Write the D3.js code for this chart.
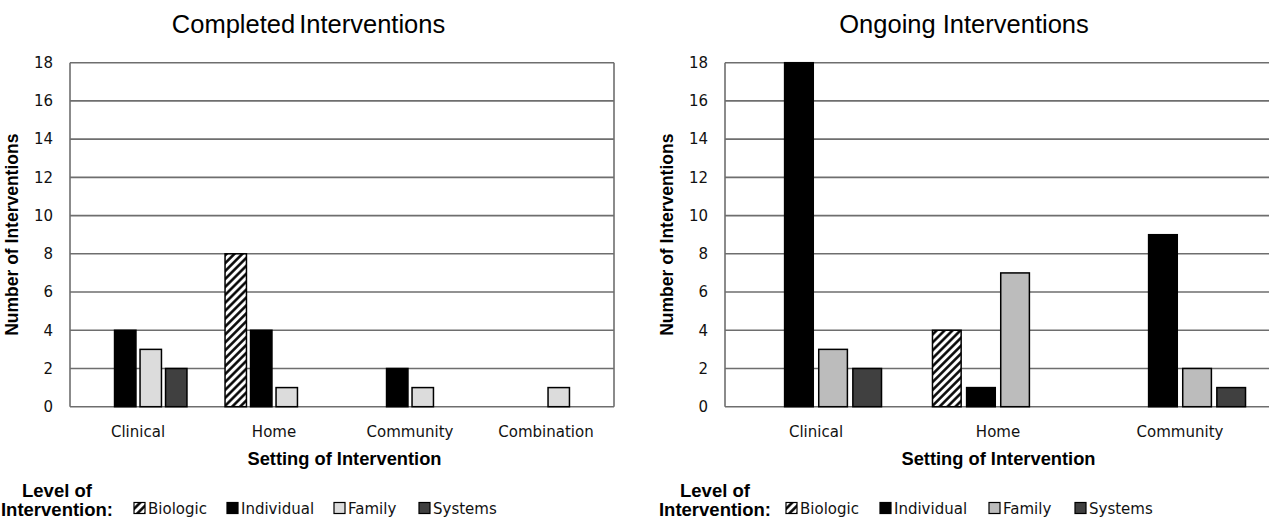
<!DOCTYPE html>
<html>
<head>
<meta charset="utf-8">
<script src="https://cdn.jsdelivr.net/npm/d3@7"></script>
<style>
  body { margin: 0; background: #fff; }
  svg { display: block; }
  .tick text { font-family: "DejaVu Sans", sans-serif; fill: #111; }
</style>
</head>
<body>
<svg id="svg" width="1269" height="519"></svg>
<script>
// data
const levels = ['Biologic', 'Individual', 'Family', 'Systems'];

const completedSettings = ['Clinical', 'Home', 'Community', 'Combination'];
const completedBiologic   = [0, 8, 0, 0];
const completedIndividual = [4, 4, 2, 0];
const completedFamily     = [3, 1, 1, 1];
const completedSystems    = [2, 0, 0, 0];

const ongoingSettings = ['Clinical', 'Home', 'Community'];
const ongoingBiologic   = [0, 4, 0];
const ongoingIndividual = [18, 1, 9];
const ongoingFamily     = [3, 7, 2];
const ongoingSystems    = [2, 0, 1];

const yTicks = [0, 2, 4, 6, 8, 10, 12, 14, 16, 18];

const svg = d3.select('#svg');

// hatch for Biologic
const defs = svg.append('defs');
const pat = defs.append('pattern')
  .attr('id', 'hatch')
  .attr('patternUnits', 'userSpaceOnUse')
  .attr('width', 5.6).attr('height', 5.6)
  .attr('patternTransform', 'rotate(45)');
pat.append('rect').attr('width', 5.6).attr('height', 5.6).attr('fill', '#fff');
pat.append('line').attr('x1', 1.4).attr('y1', 0).attr('x2', 1.4).attr('y2', 5.6)
  .attr('stroke', '#000').attr('stroke-width', 2.5);

const yTop = 62.7, yBottom = 406.7;
const gridColor = '#6e6e6e';

function drawChart(opts) {
  const { settings, series, x0, x1, fills, title, titleX, wordSpacing, drawRight } = opts;

  const yScale = d3.scaleLinear().domain([0, 18]).range([yBottom, yTop]);
  const xScale = d3.scaleBand().domain(settings).range([x0, x1])
    .paddingInner(0.28).paddingOuter(0.14);
  const xInner = d3.scaleBand().domain(levels).range([0, xScale.bandwidth()]).paddingInner(0.16);

  const g = svg.append('g');

  // gridlines
  g.append('g').selectAll('line')
    .data(yTicks)
    .enter().append('line')
    .attr('x1', x0).attr('x2', x1)
    .attr('y1', d => yScale(d)).attr('y2', d => yScale(d))
    .attr('stroke', gridColor).attr('stroke-width', 1.6);

  // plot frame
  g.append('line').attr('x1', x0).attr('x2', x0).attr('y1', yTop).attr('y2', yBottom)
    .attr('stroke', gridColor).attr('stroke-width', 1.6);
  if (drawRight) {
    g.append('line').attr('x1', x1).attr('x2', x1).attr('y1', yTop).attr('y2', yBottom)
      .attr('stroke', gridColor).attr('stroke-width', 1.6);
  }

  // y axis labels
  const yAxis = g.append('g')
    .attr('transform', `translate(${x0}, 0)`)
    .call(d3.axisLeft(yScale).tickValues(yTicks).tickSize(0).tickPadding(17));
  yAxis.select('.domain').remove();
  yAxis.selectAll('text').attr('font-size', 15);

  // x axis labels
  const xAxis = g.append('g')
    .attr('transform', `translate(0, ${yBottom})`)
    .call(d3.axisBottom(xScale).tickSize(0).tickPadding(20));
  xAxis.select('.domain').remove();
  xAxis.selectAll('text').attr('font-size', 15);

  // bars
  const groups = g.selectAll('.setting')
    .data(settings)
    .enter().append('g')
    .attr('class', 'setting')
    .attr('transform', d => `translate(${xScale(d)}, 0)`);

  groups.selectAll('rect')
    .data((d, i) => levels.map((lv, j) => ({ level: lv, value: series[j][i] })).filter(b => b.value > 0))
    .enter().append('rect')
    .attr('x', d => xInner(d.level))
    .attr('y', d => yScale(d.value))
    .attr('width', xInner.bandwidth())
    .attr('height', d => yBottom - yScale(d.value))
    .attr('fill', d => fills[levels.indexOf(d.level)])
    .attr('stroke', '#000')
    .attr('stroke-width', 1.5);

  // titles
  svg.append('text')
    .attr('x', titleX).attr('y', 33)
    .attr('text-anchor', 'middle')
    .attr('font-family', 'Liberation Sans, Arial, sans-serif')
    .attr('font-size', 25.5)
    .style('word-spacing', wordSpacing + 'px')
    .text(title);

  svg.append('text')
    .attr('transform', `translate(${x0 - 52}, ${(yTop + yBottom) / 2}) rotate(-90)`)
    .attr('text-anchor', 'middle')
    .attr('font-family', 'Liberation Sans, Arial, sans-serif')
    .attr('font-weight', 'bold')
    .attr('font-size', 17.5)
    .text('Number of Interventions');

  svg.append('text')
    .attr('x', opts.axisTitleX).attr('y', 465)
    .attr('text-anchor', 'middle')
    .attr('font-family', 'Liberation Sans, Arial, sans-serif')
    .attr('font-weight', 'bold')
    .attr('font-size', 18.3)
    .text('Setting of Intervention');

  // legend
  const lg = svg.append('g');
  lg.append('text')
    .attr('x', opts.legendLabelX).attr('y', 497)
    .attr('text-anchor', 'middle')
    .attr('font-family', 'Liberation Sans, Arial, sans-serif')
    .attr('font-weight', 'bold').attr('font-size', 18.5)
    .text('Level of');
  lg.append('text')
    .attr('x', opts.legendLabelX).attr('y', 515.5)
    .attr('text-anchor', 'middle')
    .attr('font-family', 'Liberation Sans, Arial, sans-serif')
    .attr('font-weight', 'bold').attr('font-size', 18.5)
    .text('Intervention:');

  const items = lg.selectAll('.item')
    .data(levels)
    .enter().append('g')
    .attr('class', 'item')
    .attr('transform', (d, i) => `translate(${opts.legendX[i]}, 0)`);
  items.append('rect')
    .attr('x', 0).attr('y', 502.5)
    .attr('width', 11).attr('height', 11)
    .attr('fill', (d, i) => fills[i])
    .attr('stroke', '#000').attr('stroke-width', 1.2);
  items.append('text')
    .attr('x', 14).attr('y', 514)
    .attr('font-family', 'DejaVu Sans, sans-serif')
    .attr('font-size', 15)
    .attr('fill', '#111')
    .text(d => d);
}

drawChart({
  settings: completedSettings,
  series: [completedBiologic, completedIndividual, completedFamily, completedSystems],
  x0: 70, x1: 614,
  fills: ['url(#hatch)', '#000', '#dcdcdc', '#404040'],
  title: 'Completed Interventions', titleX: 308.5, wordSpacing: -3,
  drawRight: true,
  axisTitleX: 344.5,
  legendLabelX: 57,
  legendX: [134, 227, 334, 419]
});

drawChart({
  settings: ongoingSettings,
  series: [ongoingBiologic, ongoingIndividual, ongoingFamily, ongoingSystems],
  x0: 725, x1: 1271,
  fills: ['url(#hatch)', '#000', '#bcbcbc', '#404040'],
  title: 'Ongoing Interventions', titleX: 964, wordSpacing: 0,
  drawRight: false,
  axisTitleX: 998.5,
  legendLabelX: 715,
  legendX: [786, 880, 989, 1075]
});
</script>
</body>
</html>
